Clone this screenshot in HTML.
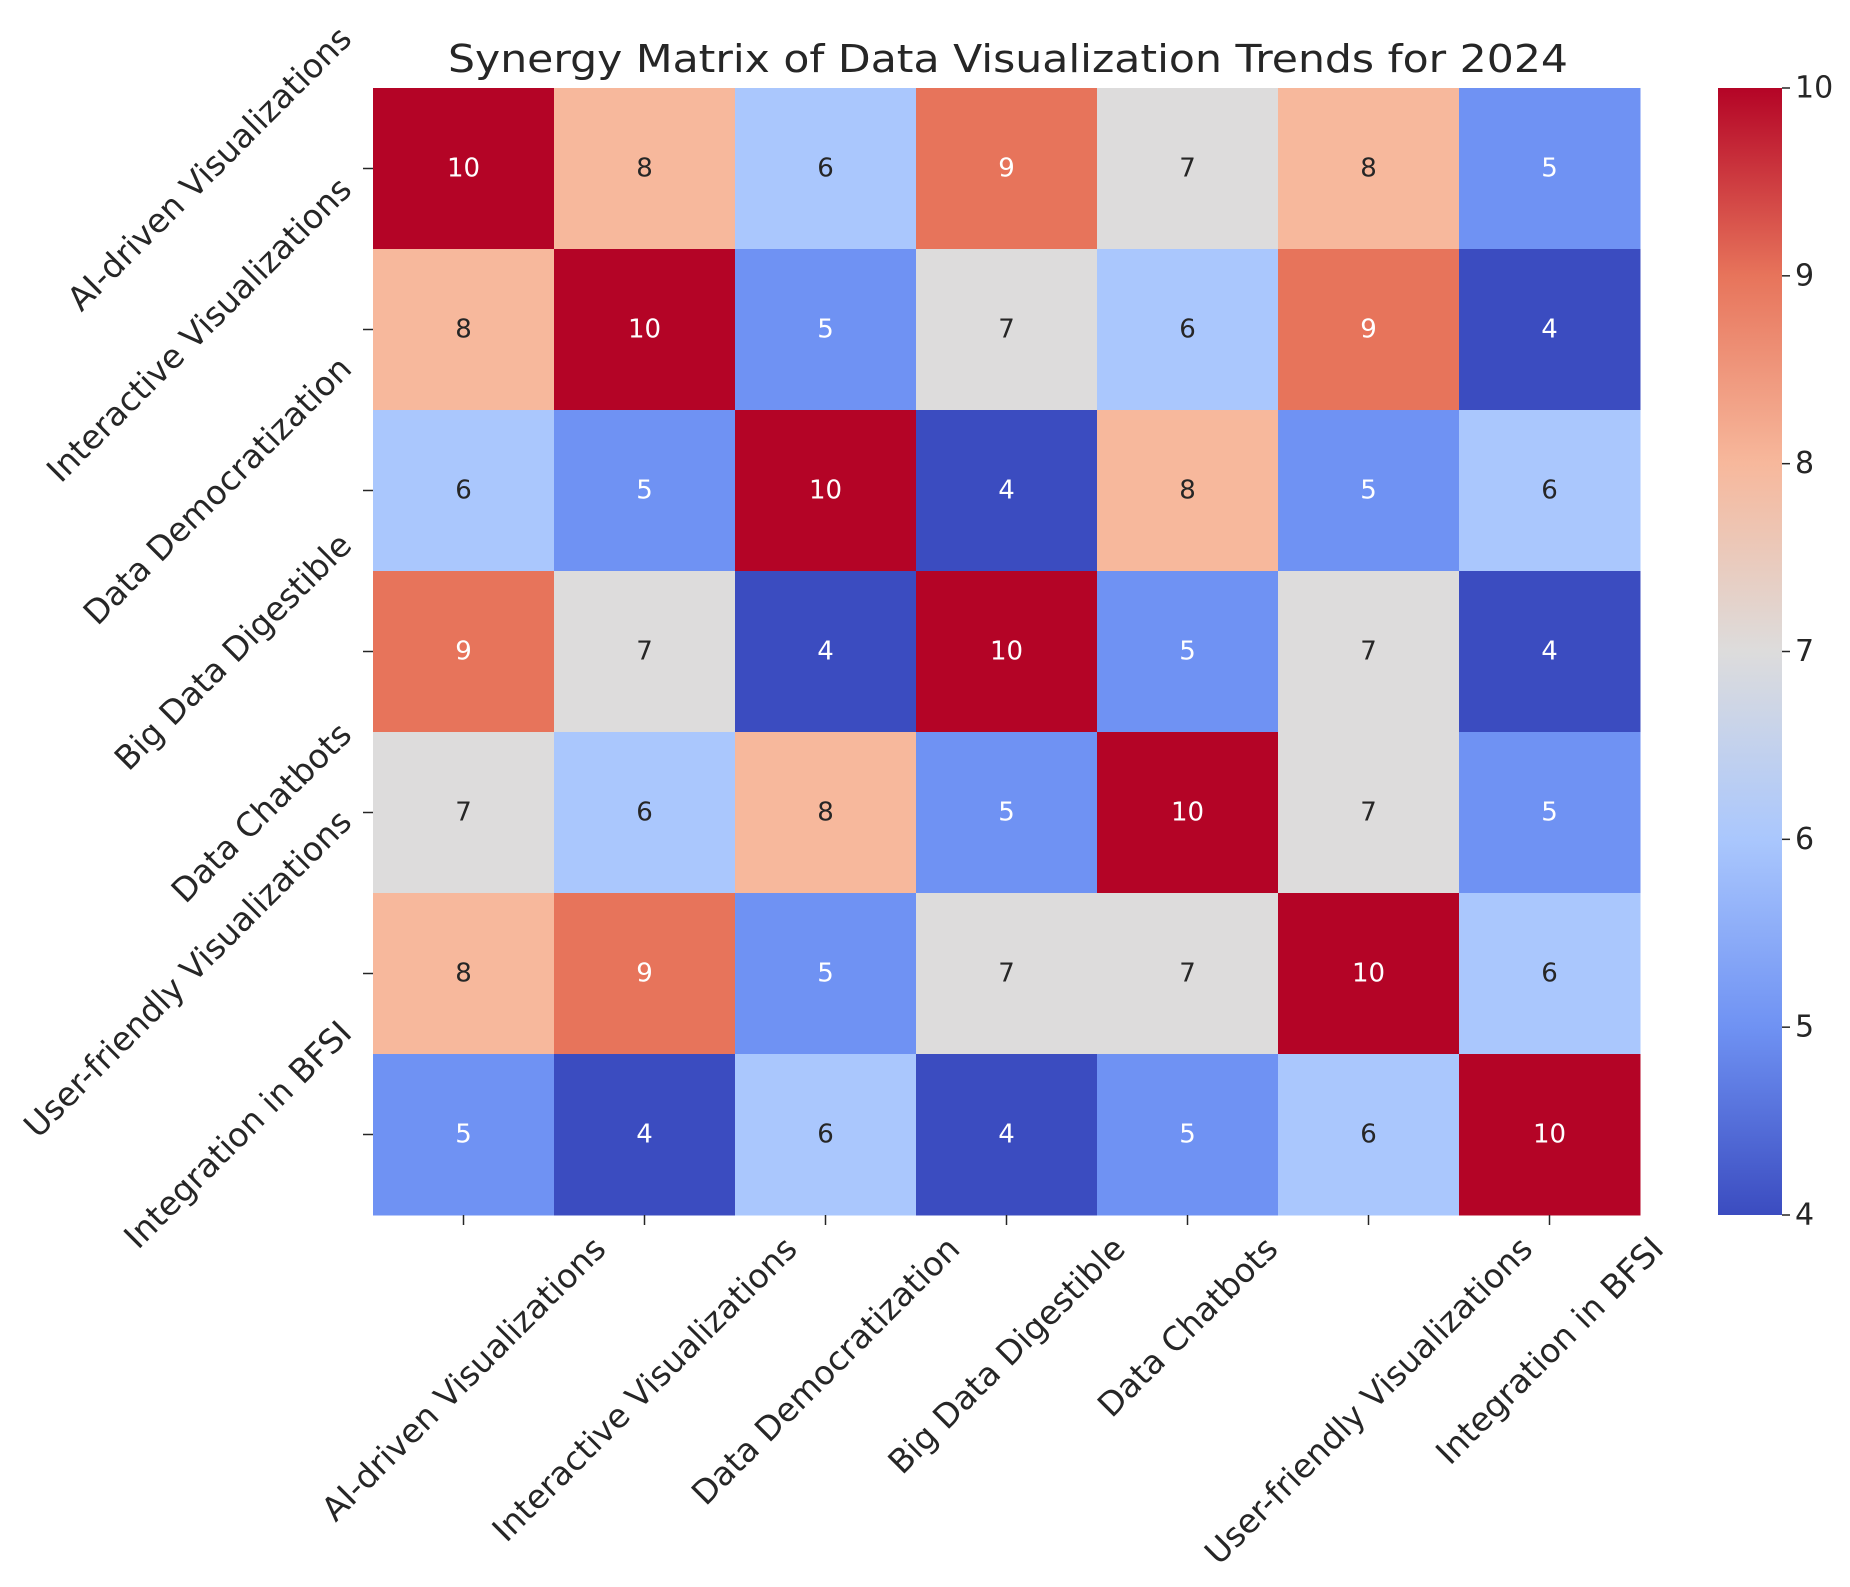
<!DOCTYPE html>
<html><head><meta charset="utf-8"><style>
html,body{margin:0;padding:0;background:#fff;}
svg{display:block;font-family:"DejaVu Sans","Liberation Sans",sans-serif;}
</style></head><body>
<svg id="chart" width="1850" height="1587" viewBox="0 0 1850 1587">
<text x="1008" y="72" text-anchor="middle" font-size="38" fill="#262626" textLength="1120" lengthAdjust="spacingAndGlyphs">Synergy Matrix of Data Visualization Trends for 2024</text>
<g id="cells"></g>
<g id="xlabels"></g>
<g id="ylabels"></g>
<defs><linearGradient id="cg" x1="0" y1="1" x2="0" y2="0">
<stop offset="0" stop-color="#3b4cc0"/><stop offset="0.1667" stop-color="#6f92f3"/><stop offset="0.3333" stop-color="#aac7fd"/><stop offset="0.5" stop-color="#dddcdc"/><stop offset="0.6667" stop-color="#f7b89c"/><stop offset="0.8333" stop-color="#e7745b"/><stop offset="1" stop-color="#b40426"/>
</linearGradient></defs>
<rect x="1718" y="88" width="64" height="1127" fill="url(#cg)"/>
<g id="cbticks"></g>
</svg>
<script>
const categories = ["AI-driven Visualizations","Interactive Visualizations","Data Democratization","Big Data Digestible","Data Chatbots","User-friendly Visualizations","Integration in BFSI"];
const row0 = [10,8,6,9,7,8,5];
const row1 = [8,10,5,7,6,9,4];
const row2 = [6,5,10,4,8,5,6];
const row3 = [9,7,4,10,5,7,4];
const row4 = [7,6,8,5,10,7,5];
const row5 = [8,9,5,7,7,10,6];
const row6 = [5,4,6,4,5,6,10];
const matrix = [row0,row1,row2,row3,row4,row5,row6];
const cbTickLabels = [4,5,6,7,8,9,10];
const vmin = 4, vmax = 10;

const NS = "http://www.w3.org/2000/svg";
const L = 373, R = 1640, T = 88, B = 1215;
const cw = (R - L) / categories.length, ch = (B - T) / categories.length;
const xPos = i => L + i * cw;
const yPos = i => T + i * ch;
const stops = [[59,76,192],[111,146,243],[170,199,253],[221,220,220],[247,184,156],[231,116,91],[180,4,38]];
function color(v){
  let t = (v - vmin) / (vmax - vmin) * 6;
  let i = Math.min(5, Math.floor(t)), f = t - i;
  const c = stops[i].map((a,k)=>Math.round(a + (stops[i+1][k]-a)*f));
  return `rgb(${c[0]},${c[1]},${c[2]})`;
}
function mk(tag, attrs, parent){ const e = document.createElementNS(NS, tag); for (const k in attrs) e.setAttribute(k, attrs[k]); parent.appendChild(e); return e; }
const cells = document.getElementById('cells');
matrix.forEach((row, r) => row.forEach((v, c) => {
  const rect = mk('rect', {x: xPos(c), y: yPos(r), width: cw + 0.5, height: ch + 0.5, fill: color(v)}, cells);
  
  
  const t = mk('text', {x: xPos(c) + cw/2, y: yPos(r) + ch/2, 'text-anchor':'middle', 'dominant-baseline':'central', 'font-size': 26, fill: (v >= 9 || v <= 5) ? '#ffffff' : '#262626'}, cells);
  t.textContent = v;
  
  
}));
const xg = document.getElementById('xlabels'), yg = document.getElementById('ylabels');
const fs = 33, s2 = Math.SQRT2;
categories.forEach((name, i) => {
  const cx = xPos(i) + cw/2;
  const tk = mk('line', {x1: cx, y1: B, x2: cx, y2: B + 10, stroke: '#262626', 'stroke-width': 1.5}, xg);
  
  
  const t = mk('text', {'text-anchor':'middle', 'dominant-baseline':'central', 'font-size': fs, fill:'#262626'}, xg);
  t.textContent = name;
  
  
  const len = t.getComputedTextLength();
  const half = (len + fs) / (2 * s2);
  const cy = B + 16 + half;
  t.setAttribute('x', cx); t.setAttribute('y', cy);
  t.setAttribute('transform', `rotate(-45 ${cx} ${cy})`);

  const cy2 = yPos(i) + ch/2;
  const tk2 = mk('line', {x1: L - 10, y1: cy2, x2: L, y2: cy2, stroke: '#262626', 'stroke-width': 1.5}, yg);
  
  
  const t2 = mk('text', {'text-anchor':'middle', 'dominant-baseline':'central', 'font-size': fs, fill:'#262626'}, yg);
  t2.textContent = name;
  
  
  const len2 = t2.getComputedTextLength();
  const half2 = (len2 + fs) / (2 * s2);
  const cx2 = L - 16 - half2;
  t2.setAttribute('x', cx2); t2.setAttribute('y', cy2);
  t2.setAttribute('transform', `rotate(-45 ${cx2} ${cy2})`);
});
const cb = document.getElementById('cbticks');
cbTickLabels.forEach(v => {
  const y = B - (v - vmin) / (vmax - vmin) * (B - T);
  const l = mk('line', {x1: 1782, y1: y, x2: 1790, y2: y, stroke: '#262626', 'stroke-width': 1.5}, cb);
  
  
  const t = mk('text', {x: 1795, y: y, 'dominant-baseline':'central', 'font-size': 30, fill:'#262626'}, cb);
  t.textContent = v;
  
  
});
</script>
</body></html>
